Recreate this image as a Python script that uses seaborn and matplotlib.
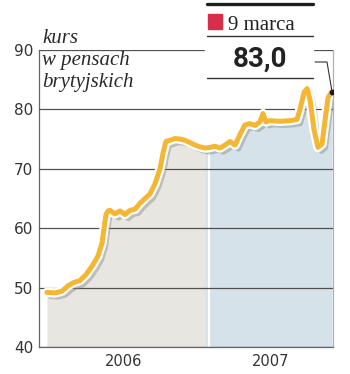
import matplotlib
matplotlib.use("Agg")
import matplotlib.pyplot as plt
import matplotlib.patheffects as pe
from matplotlib.patches import Rectangle
from matplotlib.lines import Line2D
import numpy as np
import pandas as pd
import seaborn as sns

# --- data (x = months since start of 2006, y = share price in pence) ---
months = [0.56, 1.13, 1.62, 2.05, 2.40, 2.89, 3.32, 3.74, 4.16, 4.45, 4.59, 4.73,
          4.87, 5.01, 5.36, 5.72, 6.07, 6.42, 6.78, 7.13, 7.48, 7.84, 8.19, 8.54,
          8.75, 8.96, 9.25, 9.60, 9.95, 10.31, 10.66, 11.01, 11.36, 11.72, 12.07,
          12.42, 12.78, 13.13, 13.48, 13.84, 14.19, 14.54, 14.89, 15.25, 15.60,
          15.81, 16.02, 16.31, 17.01, 17.72, 18.21, 18.42, 18.71, 18.92, 19.13,
          19.41, 19.69, 19.98, 20.19, 20.40, 20.68]
price = [49.2, 49.1, 49.4, 50.3, 50.8, 51.2, 52.2, 53.6, 55.3, 57.5, 60.0, 62.3,
         62.9, 63.0, 62.4, 62.9, 62.3, 63.0, 63.2, 64.2, 65.0, 65.8, 67.5, 70.0,
         72.6, 74.6, 74.8, 75.1, 75.0, 74.8, 74.4, 74.0, 73.7, 73.5, 73.6,
         73.8, 73.5, 74.0, 74.6, 74.0, 75.8, 77.4, 77.6, 77.3, 77.9,
         79.3, 77.9, 78.1, 78.0, 78.1, 78.3, 80.0, 82.9, 83.5, 81.6,
         76.6, 73.6, 74.2, 78.2, 82.0, 83.0]
year_labels = ["2006", "2007"]
year_start = [0, 12]
year_end = [12, 20.75]
y_ticks = [40, 50, 60, 70, 80, 90]
unit_label = ["kurs", "w pensach", "brytyjskich"]
last_date_label = "9 marca"
last_value_label = "83,0"

df = pd.DataFrame({"month": months, "price": price})

sns.set_style("white")
plt.rcParams["font.family"] = ["DejaVu Sans"]

W, H = 350, 374
fig = plt.figure(figsize=(W / 100, H / 100), dpi=100)
L, R, T, B = 39, 333, 50, 347
ax = fig.add_axes([L / W, 1 - B / H, (R - L) / W, (B - T) / H])

LINE = "#f5b634"
GREY = "#e7e6e1"
BLUE = "#d5e2ea"

x = np.array(months)
y = np.array(price)
ax.fill_between(x, y, 40, where=x <= 12.07, color=GREY, lw=0, zorder=1, interpolate=True)
ax.fill_between(x, y, 40, where=x >= 11.72, color=BLUE, lw=0, zorder=1, interpolate=True)
ax.axvline(year_start[1], color="white", lw=1.6, zorder=1.5)

sns.lineplot(data=df, x="month", y="price", ax=ax, color=LINE, lw=3.6, zorder=4,
             path_effects=[pe.SimpleLineShadow(offset=(2.5, -3), shadow_color="#8a8a8a", alpha=0.45),
                           pe.Stroke(linewidth=6.8, foreground="white"),
                           pe.Normal()])

ax.scatter([months[-1]], [price[-1]], s=10, color="#1a1a1a", zorder=6)

ax.set_xlim(0, 20.75)
ax.set_ylim(40, 90)
ax.set_yticks(y_ticks)
ax.set_yticklabels([str(v) for v in y_ticks], fontsize=11, color="#333333", family="DejaVu Sans")
ax.yaxis.grid(True, color="#505050", lw=0.9)
ax.xaxis.grid(False)
ax.set_axisbelow(False)
for gl in ax.get_ygridlines():
    gl.set_zorder(2)
ax.tick_params(axis="y", length=0, pad=4)
ax.set_xticks([year_start[1]])
ax.set_xticklabels([""])
ax.tick_params(axis="x", direction="out", length=13, width=0.9, color="#555555")
ax.set_xlabel("")
ax.set_ylabel("")
for s in ["left", "bottom"]:
    ax.spines[s].set_color("#666666")
    ax.spines[s].set_linewidth(0.9)
ax.spines["right"].set_color("#b0b0b0")
ax.spines["right"].set_linewidth(0.9)
ax.spines["top"].set_visible(False)

for lab, a, b in zip(year_labels, year_start, year_end):
    ax.text((a + b) / 2, -0.025, lab, transform=ax.get_xaxis_transform(),
            ha="center", va="top", fontsize=10.5, color="#333333")

# unit label
for i, t in enumerate(unit_label):
    fig.text(42 / W, 1 - (43 + 22 * i) / H, t, fontsize=15, style="italic",
             family="Liberation Serif", color="#2a2a2a", va="baseline", ha="left")

# info box
def fx(px):
    return px / W

def fy(py):
    return 1 - py / H

fig.patches.append(Rectangle((fx(205), fy(80)), fx(313) - fx(205), fy(0) - fy(80),
                             transform=fig.transFigure, color="white", zorder=5))
fig.lines.append(Line2D([fx(207), fx(313)], [fy(4), fy(4)], transform=fig.transFigure,
                        color="#1e1e1e", lw=2.4, zorder=6))
fig.lines.append(Line2D([fx(207), fx(313)], [fy(36), fy(36)], transform=fig.transFigure,
                        color="#333333", lw=1.0, zorder=6))
fig.lines.append(Line2D([fx(207), fx(313)], [fy(78), fy(78)], transform=fig.transFigure,
                        color="#333333", lw=1.0, zorder=6))
fig.patches.append(Rectangle((fx(208), fy(29)), fx(222) - fx(208), fy(14) - fy(29),
                             transform=fig.transFigure, color="#d82e4a", zorder=6))
fig.text(fx(228), fy(30), last_date_label, fontsize=15, family="Liberation Serif",
         color="#222222", va="baseline", ha="left", zorder=7)
fig.text(fx(260), fy(67), last_value_label, fontsize=20, family="Roboto", weight="bold",
         color="#222222", va="baseline", ha="center", zorder=7)

# connector from box to last point
fig.canvas.draw()
px_end = ax.transData.transform((months[-1], price[-1]))
fx_end, fy_end = fig.transFigure.inverted().transform(px_end)
fig.lines.append(Line2D([fx(315), fx(327), fx_end], [fy(62), fy(62), fy_end],
                        transform=fig.transFigure, color="#333333", lw=0.8, zorder=8))

fig.savefig("out.png", dpi=100)
